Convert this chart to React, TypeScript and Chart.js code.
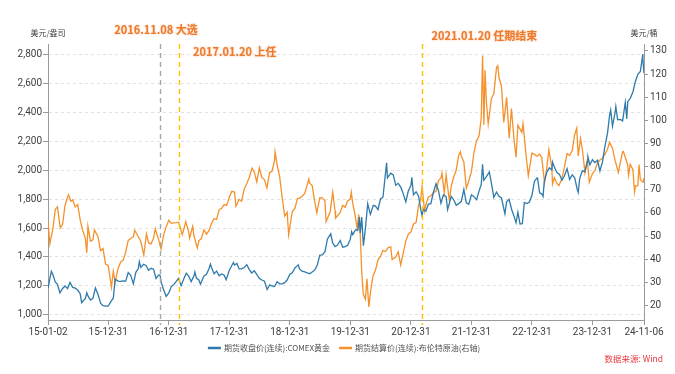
import React, { useEffect, useRef } from "react";
import { Chart, registerables } from "chart.js";

Chart.register(...registerables);

const W = 675;
const H = 374;

// ---- data (date "yy-mm-dd", value) ----
const GOLD_LABEL = "期货收盘价(连续):COMEX黄金";
const BRENT_LABEL = "期货结算价(连续):布伦特原油(右轴)";

const GOLD: [string, number][] = [
  ["15-01-02", 1186], ["15-01-15", 1262], ["15-01-22", 1301], ["15-01-31", 1279], ["15-02-15", 1228], ["15-02-28", 1212],
  ["15-03-15", 1153], ["15-03-31", 1183], ["15-04-15", 1200], ["15-04-30", 1182], ["15-05-15", 1225], ["15-05-31", 1190],
  ["15-06-15", 1185], ["15-06-30", 1172], ["15-07-15", 1147], ["15-07-24", 1085], ["15-07-31", 1095], ["15-08-15", 1113],
  ["15-08-24", 1154], ["15-08-31", 1132], ["15-09-15", 1103], ["15-09-30", 1115], ["15-10-15", 1187], ["15-10-31", 1142],
  ["15-11-15", 1081], ["15-11-30", 1064], ["15-12-15", 1062], ["15-12-31", 1061],
  ["16-01-15", 1090], ["16-01-31", 1116], ["16-02-11", 1247], ["16-02-29", 1234], ["16-03-15", 1232], ["16-03-31", 1235],
  ["16-04-15", 1234], ["16-04-30", 1292], ["16-05-15", 1273], ["16-05-31", 1215], ["16-06-15", 1294], ["16-06-30", 1320],
  ["16-07-06", 1367], ["16-07-15", 1328], ["16-07-31", 1350], ["16-08-15", 1342], ["16-08-31", 1309], ["16-09-15", 1322],
  ["16-09-30", 1316], ["16-10-15", 1252], ["16-10-31", 1276], ["16-11-08", 1274], ["16-11-15", 1225], ["16-11-30", 1173],
  ["16-12-15", 1128], ["16-12-31", 1152],
  ["17-01-15", 1196], ["17-01-31", 1211], ["17-02-15", 1233], ["17-02-28", 1253], ["17-03-15", 1202], ["17-03-31", 1249],
  ["17-04-15", 1288], ["17-04-30", 1268], ["17-05-15", 1230], ["17-05-31", 1268], ["17-06-06", 1297], ["17-06-15", 1255],
  ["17-06-30", 1242], ["17-07-10", 1213], ["17-07-31", 1269], ["17-08-15", 1281], ["17-08-31", 1321], ["17-09-08", 1351],
  ["17-09-15", 1325], ["17-09-30", 1284], ["17-10-15", 1303], ["17-10-31", 1271], ["17-11-15", 1283], ["17-11-30", 1275],
  ["17-12-12", 1243], ["17-12-31", 1309],
  ["18-01-15", 1341], ["18-01-25", 1362], ["18-01-31", 1345], ["18-02-15", 1355], ["18-02-28", 1318], ["18-03-15", 1318],
  ["18-03-31", 1327], ["18-04-15", 1347], ["18-04-30", 1315], ["18-05-15", 1290], ["18-05-31", 1305], ["18-06-15", 1278],
  ["18-06-30", 1253], ["18-07-15", 1241], ["18-07-31", 1233], ["18-08-16", 1176], ["18-08-31", 1206], ["18-09-15", 1201],
  ["18-09-30", 1196], ["18-10-15", 1230], ["18-10-31", 1215], ["18-11-15", 1215], ["18-11-30", 1223], ["18-12-15", 1241],
  ["18-12-31", 1281],
  ["19-01-15", 1291], ["19-01-31", 1325], ["19-02-20", 1346], ["19-02-28", 1316], ["19-03-15", 1302], ["19-03-31", 1298],
  ["19-04-15", 1291], ["19-04-30", 1285], ["19-05-15", 1297], ["19-05-31", 1311], ["19-06-15", 1345], ["19-06-30", 1413],
  ["19-07-15", 1414], ["19-07-31", 1437], ["19-08-15", 1525], ["19-09-04", 1560], ["19-09-15", 1499], ["19-09-30", 1472],
  ["19-10-15", 1482], ["19-10-31", 1514], ["19-11-15", 1468], ["19-11-30", 1472], ["19-12-15", 1481], ["19-12-31", 1523],
  ["20-01-08", 1575], ["20-01-15", 1554], ["20-01-31", 1587], ["20-02-15", 1586], ["20-02-24", 1676], ["20-02-29", 1566],
  ["20-03-09", 1675], ["20-03-19", 1478], ["20-03-31", 1596], ["20-04-14", 1768], ["20-04-30", 1694], ["20-05-18", 1756],
  ["20-05-31", 1751], ["20-06-15", 1727], ["20-06-30", 1800], ["20-07-15", 1812], ["20-07-31", 1986], ["20-08-06", 2050],
  ["20-08-11", 1946], ["20-08-31", 1978], ["20-09-15", 1966], ["20-09-30", 1895], ["20-10-15", 1908], ["20-10-31", 1880],
  ["20-11-09", 1854], ["20-11-30", 1780], ["20-12-15", 1855], ["20-12-31", 1895],
  ["21-01-05", 1950], ["21-01-15", 1829], ["21-01-31", 1850], ["21-02-15", 1820], ["21-02-28", 1729], ["21-03-08", 1683],
  ["21-03-15", 1730], ["21-03-31", 1716], ["21-04-15", 1765], ["21-04-30", 1768], ["21-05-15", 1843], ["21-05-31", 1905],
  ["21-06-15", 1857], ["21-06-30", 1770], ["21-07-15", 1829], ["21-07-31", 1817], ["21-08-09", 1727], ["21-08-31", 1818],
  ["21-09-15", 1795], ["21-09-30", 1757], ["21-10-15", 1768], ["21-10-31", 1784], ["21-11-15", 1866], ["21-11-30", 1774],
  ["21-12-15", 1764], ["21-12-31", 1829],
  ["22-01-15", 1816], ["22-01-31", 1796], ["22-02-15", 1856], ["22-02-28", 1900], ["22-03-08", 2040], ["22-03-15", 1929],
  ["22-03-31", 1954], ["22-04-18", 1986], ["22-04-30", 1911], ["22-05-15", 1811], ["22-05-31", 1848], ["22-06-15", 1819],
  ["22-06-30", 1807], ["22-07-21", 1698], ["22-07-31", 1781], ["22-08-15", 1798], ["22-08-31", 1726], ["22-09-15", 1677],
  ["22-09-26", 1636], ["22-10-07", 1709], ["22-10-20", 1628], ["22-11-03", 1630], ["22-11-15", 1776], ["22-11-30", 1768],
  ["22-12-15", 1777], ["22-12-31", 1826],
  ["23-01-15", 1921], ["23-01-31", 1945], ["23-02-02", 1950], ["23-02-15", 1842], ["23-02-28", 1836], ["23-03-08", 1818],
  ["23-03-15", 1918], ["23-03-31", 1986], ["23-04-15", 2015], ["23-04-30", 2000], ["23-05-04", 2055], ["23-05-15", 2021],
  ["23-05-31", 1982], ["23-06-15", 1970], ["23-06-30", 1929], ["23-07-15", 1960], ["23-07-31", 2009], ["23-08-15", 1935],
  ["23-08-31", 1966], ["23-09-15", 1946], ["23-09-30", 1866], ["23-10-06", 1845], ["23-10-15", 1941], ["23-10-31", 1996],
  ["23-11-15", 1987], ["23-11-30", 2057], ["23-12-04", 2090], ["23-12-15", 2036], ["23-12-31", 2071],
  ["24-01-15", 2051], ["24-01-31", 2067], ["24-02-14", 1993], ["24-02-29", 2054], ["24-03-15", 2161], ["24-03-31", 2254],
  ["24-04-12", 2374], ["24-04-19", 2413], ["24-04-30", 2302], ["24-05-15", 2393], ["24-05-20", 2438], ["24-05-31", 2346],
  ["24-06-15", 2349], ["24-06-30", 2339], ["24-07-16", 2467], ["24-07-25", 2353], ["24-07-31", 2473], ["24-08-15", 2494],
  ["24-08-31", 2538], ["24-09-15", 2610], ["24-09-30", 2660], ["24-10-15", 2680], ["24-10-30", 2800], ["24-10-31", 2749],
  ["24-11-06", 2668],
];

const BRENT: [string, number][] = [
  ["15-01-02", 56.4], ["15-01-13", 46.6], ["15-01-31", 53.0], ["15-02-15", 61.5], ["15-02-28", 62.6], ["15-03-17", 53.5],
  ["15-03-31", 55.1], ["15-04-15", 63.3], ["15-04-30", 66.8], ["15-05-06", 67.8], ["15-05-20", 65.0], ["15-05-31", 65.6],
  ["15-06-15", 62.6], ["15-06-30", 63.6], ["15-07-15", 57.1], ["15-07-31", 52.2], ["15-08-15", 49.2], ["15-08-24", 42.7],
  ["15-08-31", 54.2], ["15-09-15", 47.8], ["15-09-30", 48.4], ["15-10-09", 52.7], ["15-10-31", 49.6], ["15-11-15", 43.6],
  ["15-11-30", 44.6], ["15-12-15", 37.9], ["15-12-31", 37.3],
  ["16-01-20", 27.9], ["16-01-31", 34.7], ["16-02-11", 30.1], ["16-02-29", 36.0], ["16-03-15", 38.7], ["16-03-31", 39.6],
  ["16-04-15", 43.1], ["16-04-30", 48.1], ["16-05-15", 48.9], ["16-05-31", 49.7], ["16-06-08", 52.5], ["16-06-30", 49.7],
  ["16-07-15", 47.6], ["16-08-02", 41.8], ["16-08-18", 50.9], ["16-08-31", 47.0], ["16-09-15", 46.6], ["16-09-30", 49.1],
  ["16-10-10", 53.1], ["16-10-31", 48.3], ["16-11-14", 44.4], ["16-11-30", 50.5], ["16-12-15", 54.0], ["16-12-31", 56.8],
  ["17-01-15", 55.5], ["17-01-31", 55.7], ["17-02-15", 55.8], ["17-02-28", 56.0], ["17-03-22", 50.6], ["17-03-31", 52.8],
  ["17-04-12", 56.2], ["17-04-30", 51.7], ["17-05-05", 49.1], ["17-05-24", 54.2], ["17-05-31", 50.3], ["17-06-21", 44.8],
  ["17-06-30", 47.9], ["17-07-15", 48.9], ["17-07-31", 52.7], ["17-08-15", 50.8], ["17-08-31", 52.4], ["17-09-15", 55.6],
  ["17-09-30", 57.5], ["17-10-15", 57.2], ["17-10-31", 61.4], ["17-11-15", 62.0], ["17-11-30", 63.6], ["17-12-15", 63.2],
  ["17-12-31", 66.9],
  ["18-01-15", 69.3], ["18-01-31", 69.0], ["18-02-09", 62.8], ["18-02-28", 65.8], ["18-03-15", 65.1], ["18-03-31", 70.3],
  ["18-04-15", 72.6], ["18-04-30", 75.2], ["18-05-17", 79.3], ["18-05-31", 77.6], ["18-06-15", 73.4], ["18-06-30", 79.4],
  ["18-07-15", 75.3], ["18-07-31", 74.3], ["18-08-15", 70.8], ["18-08-31", 77.4], ["18-09-15", 78.1], ["18-09-30", 82.7],
  ["18-10-03", 86.3], ["18-10-15", 81.0], ["18-10-31", 75.5], ["18-11-15", 66.6], ["18-11-30", 58.7], ["18-12-15", 60.3],
  ["18-12-24", 50.5], ["18-12-31", 53.8],
  ["19-01-15", 60.6], ["19-01-31", 61.9], ["19-02-15", 66.3], ["19-02-28", 66.3], ["19-03-15", 67.2], ["19-03-31", 68.4],
  ["19-04-25", 74.6], ["19-04-30", 72.8], ["19-05-15", 71.8], ["19-05-31", 64.5], ["19-06-12", 60.0], ["19-06-30", 66.6],
  ["19-07-15", 66.5], ["19-07-31", 65.2], ["19-08-07", 56.2], ["19-08-31", 60.4], ["19-09-16", 69.0], ["19-09-30", 60.8],
  ["19-10-03", 57.7], ["19-10-31", 60.2], ["19-11-15", 63.3], ["19-11-30", 62.4], ["19-12-15", 65.2], ["19-12-31", 66.0],
  ["20-01-06", 68.9], ["20-01-15", 64.0], ["20-01-31", 58.2], ["20-02-10", 53.3], ["20-02-20", 59.3], ["20-02-29", 50.5],
  ["20-03-09", 34.4], ["20-03-18", 24.9], ["20-03-31", 22.7], ["20-04-09", 31.5], ["20-04-21", 19.3], ["20-04-30", 25.3],
  ["20-05-15", 32.5], ["20-05-31", 35.3], ["20-06-15", 39.7], ["20-06-30", 41.2], ["20-07-15", 43.8], ["20-07-31", 43.3],
  ["20-08-15", 45.0], ["20-08-31", 45.3], ["20-09-08", 39.8], ["20-09-30", 40.9], ["20-10-15", 43.2], ["20-10-30", 37.5],
  ["20-11-15", 42.8], ["20-11-30", 47.9], ["20-12-15", 50.8], ["20-12-31", 51.8],
  ["21-01-15", 55.1], ["21-01-31", 55.9], ["21-02-15", 63.3], ["21-02-28", 66.1], ["21-03-08", 71.4], ["21-03-23", 60.8],
  ["21-03-31", 63.5], ["21-04-15", 66.9], ["21-04-30", 67.3], ["21-05-15", 68.7], ["21-05-31", 69.3], ["21-06-15", 74.0],
  ["21-06-30", 75.1], ["21-07-06", 77.2], ["21-07-20", 68.6], ["21-07-31", 76.3], ["21-08-20", 65.2], ["21-08-31", 71.6],
  ["21-09-15", 75.5], ["21-09-30", 78.5], ["21-10-15", 84.9], ["21-10-25", 86.4], ["21-10-31", 84.4], ["21-11-15", 82.1],
  ["21-11-30", 70.6], ["21-12-15", 73.9], ["21-12-31", 77.8],
  ["22-01-15", 86.1], ["22-01-31", 91.2], ["22-02-15", 93.3], ["22-02-28", 101.0], ["22-03-08", 128.0], ["22-03-16", 98.0],
  ["22-03-23", 121.6], ["22-03-31", 107.9], ["22-04-11", 98.5], ["22-04-30", 109.3], ["22-05-15", 111.6], ["22-05-31", 122.8],
  ["22-06-08", 123.6], ["22-06-15", 118.5], ["22-06-30", 114.8], ["22-07-14", 99.1], ["22-07-31", 110.0], ["22-08-16", 92.3],
  ["22-08-29", 105.1], ["22-09-15", 90.8], ["22-09-26", 84.1], ["22-10-07", 97.9], ["22-10-31", 94.8], ["22-11-07", 98.6],
  ["22-11-28", 83.2], ["22-12-09", 76.1], ["22-12-31", 85.9],
  ["23-01-15", 85.3], ["23-01-31", 84.5], ["23-02-15", 85.4], ["23-02-28", 83.9], ["23-03-17", 73.0], ["23-03-31", 79.8],
  ["23-04-12", 87.3], ["23-04-30", 79.5], ["23-05-04", 72.5], ["23-05-15", 75.2], ["23-05-31", 72.7], ["23-06-12", 71.8],
  ["23-06-30", 74.9], ["23-07-15", 79.9], ["23-07-31", 85.6], ["23-08-15", 84.9], ["23-08-31", 86.9], ["23-09-15", 93.9],
  ["23-09-27", 96.6], ["23-10-06", 84.6], ["23-10-20", 92.2], ["23-10-31", 87.4], ["23-11-16", 77.4], ["23-11-30", 82.8],
  ["23-12-12", 73.2], ["23-12-31", 77.0],
  ["24-01-15", 78.3], ["24-01-31", 81.7], ["24-02-15", 82.9], ["24-02-29", 83.6], ["24-03-15", 85.3], ["24-03-31", 87.5],
  ["24-04-12", 90.5], ["24-04-30", 88.0], ["24-05-15", 82.8], ["24-06-04", 77.5], ["24-06-30", 86.4], ["24-07-05", 86.5],
  ["24-07-31", 80.7], ["24-08-05", 76.3], ["24-08-15", 81.0], ["24-08-31", 78.8], ["24-09-10", 69.2], ["24-09-15", 71.6],
  ["24-09-30", 71.8], ["24-10-07", 80.9], ["24-10-15", 74.3], ["24-10-31", 73.2], ["24-11-06", 75.0],
];

const X_TICKS = ["15-01-02", "15-12-31", "16-12-31", "17-12-31", "18-12-31", "19-12-31", "20-12-31", "21-12-31", "22-12-31", "23-12-31", "24-11-06"];
const LEFT_TICKS = [1000, 1200, 1400, 1600, 1800, 2000, 2200, 2400, 2600, 2800];
const RIGHT_TICKS = [20, 30, 40, 50, 60, 70, 80, 90, 100, 110, 120, 130];
const LEFT_RANGE = [965.5, 2869];
const RIGHT_RANGE = [13.7, 133.0];

// event markers (dates where the dashed lines sit in the picture)
const EVENT_LINE_DATES = ["16-11-08", "17-03-02", "21-03-05"];
const EVENT_LINE_COLORS = ["#A6A6A6", "#FFC000", "#FFC000"];
const EVENT_TEXTS = ["2016.11.08 大选", "2017.01.20 上任", "2021.01.20 任期结束"];

const LEFT_UNIT = "美元/盎司";
const RIGHT_UNIT = "美元/桶";
const SOURCE = "数据来源: Wind";

const GOLD_COLOR = "#2E7AAB";
const BRENT_COLOR = "#F5912A";
const TICK_FONT = { family: '"Liberation Sans Narrow", Roboto, sans-serif', size: 10 };
const CJK = '"Noto Sans CJK SC", sans-serif';

const dn = (s: string) => Date.UTC(2000 + Number(s.slice(0, 2)), Number(s.slice(3, 5)) - 1, Number(s.slice(6, 8))) / 864e5;
const tickLabelOf: Record<number, string> = {};
X_TICKS.forEach((d) => (tickLabelOf[dn(d)] = d));

const overlay = {
  id: "overlay",
  afterDatasetsDraw(chart: any) {
    const { ctx, chartArea, scales } = chart;
    const x = scales.x;
    ctx.save();
    // event dashed lines
    const linePx = EVENT_LINE_DATES.map((d) => x.getPixelForValue(dn(d)));
    linePx.forEach((px, i) => {
      ctx.beginPath();
      ctx.setLineDash([5, 4]);
      ctx.strokeStyle = EVENT_LINE_COLORS[i];
      ctx.lineWidth = 1.4;
      ctx.moveTo(Math.round(px) + 0.5, chartArea.top);
      ctx.lineTo(Math.round(px) + 0.5, chartArea.bottom + 5);
      ctx.stroke();
    });
    ctx.setLineDash([]);
    // event texts
    ctx.font = `bold 11px ${CJK}`;
    ctx.fillStyle = "#EE7A2C";
    ctx.textBaseline = "middle";
    ctx.shadowColor = "rgba(238,122,44,0.55)";
    ctx.shadowBlur = 2;
    ctx.textAlign = "center";
    ctx.fillText(EVENT_TEXTS[0], linePx[0] - 4, chartArea.top - 14);
    ctx.textAlign = "left";
    ctx.fillText(EVENT_TEXTS[1], linePx[1] + 14, chartArea.top + 8);
    ctx.fillText(EVENT_TEXTS[2], linePx[2] + 10, chartArea.top - 8);
    ctx.shadowBlur = 0;
    ctx.shadowColor = "transparent";
    // axis unit titles
    ctx.font = `8px ${CJK}`;
    ctx.fillStyle = "#404040";
    ctx.textAlign = "center";
    ctx.fillText(LEFT_UNIT, chartArea.left, chartArea.top - 11);
    ctx.fillText(RIGHT_UNIT, chartArea.right, chartArea.top - 11);
    // legend
    const items = chart.data.datasets.map((ds: any) => ({ label: ds.label, color: ds.borderColor }));
    const sw = 13, g1 = 3, g2 = 9;
    const widths = items.map((it: any) => sw + g1 + ctx.measureText(it.label).width);
    const total = widths.reduce((a: number, b: number) => a + b, 0) + g2 * (items.length - 1);
    let lx = (chartArea.left + chartArea.right) / 2 - 2 - total / 2;
    const ly = chartArea.bottom + 28;
    ctx.textAlign = "left";
    items.forEach((it: any, i: number) => {
      ctx.strokeStyle = it.color;
      ctx.lineWidth = 2.5;
      ctx.beginPath();
      ctx.moveTo(lx, ly);
      ctx.lineTo(lx + sw, ly);
      ctx.stroke();
      ctx.fillStyle = "#505050";
      ctx.fillText(it.label, lx + sw + g1, ly);
      lx += widths[i] + g2;
    });
    // source
    ctx.font = `8.5px ${CJK}`;
    ctx.fillStyle = "#E8383D";
    ctx.textAlign = "right";
    ctx.fillText(SOURCE, chart.width - 12, chartArea.bottom + 39);
    ctx.restore();
  },
};

export default function App() {
  const ref = useRef<HTMLCanvasElement>(null);
  useEffect(() => {
    if (!ref.current) return;
    const axisColor = "#9A9A9A";
    const chart = new Chart(ref.current, {
      type: "line",
      data: {
        datasets: [
          {
            label: GOLD_LABEL,
            data: GOLD.map(([d, v]) => ({ x: dn(d), y: v })),
            borderColor: GOLD_COLOR,
            backgroundColor: GOLD_COLOR,
            borderWidth: 1.3,
            pointRadius: 0,
            yAxisID: "y",
          },
          {
            label: BRENT_LABEL,
            data: BRENT.map(([d, v]) => ({ x: dn(d), y: v })),
            borderColor: BRENT_COLOR,
            backgroundColor: BRENT_COLOR,
            borderWidth: 1.3,
            pointRadius: 0,
            yAxisID: "y1",
          },
        ],
      },
      options: {
        animation: false,
        responsive: false,
        devicePixelRatio: 1,
        layout: { padding: { top: 44, left: 0, right: 0, bottom: 0 } },
        plugins: { legend: { display: false }, tooltip: { enabled: false } },
        scales: {
          x: {
            type: "linear",
            min: dn(X_TICKS[0]),
            max: dn(X_TICKS[X_TICKS.length - 1]),
            afterBuildTicks: (s: any) => {
              s.ticks = X_TICKS.map((d) => ({ value: dn(d) }));
            },
            afterFit: (s: any) => {
              s.height = 54;
            },
            ticks: {
              autoSkip: false,
              maxRotation: 0,
              padding: 1,
              color: "#404040",
              font: TICK_FONT,
              callback: (v: any) => tickLabelOf[v] ?? "",
            },
            grid: { drawOnChartArea: false, drawTicks: true, tickLength: 5, tickColor: axisColor },
            border: { color: axisColor, width: 1 },
          },
          y: {
            position: "left",
            min: LEFT_RANGE[0],
            max: LEFT_RANGE[1],
            afterBuildTicks: (s: any) => {
              s.ticks = LEFT_TICKS.map((v) => ({ value: v }));
            },
            afterFit: (s: any) => {
              s.width = 48;
            },
            ticks: {
              padding: 1,
              color: "#404040",
              font: TICK_FONT,
              callback: (v: any) => Number(v).toLocaleString("en-US"),
            },
            grid: { color: "#E2E2E2", tickLength: 5, tickColor: axisColor, tickBorderDash: [] },
            border: { color: axisColor, width: 1, dash: [3, 3] },
          },
          y1: {
            position: "right",
            min: RIGHT_RANGE[0],
            max: RIGHT_RANGE[1],
            afterBuildTicks: (s: any) => {
              s.ticks = RIGHT_TICKS.map((v) => ({ value: v }));
            },
            afterFit: (s: any) => {
              s.width = 31;
            },
            ticks: { padding: 2, color: "#404040", font: TICK_FONT },
            grid: { drawOnChartArea: false, tickLength: 4, tickColor: axisColor },
            border: { color: axisColor, width: 1 },
          },
        },
      } as any,
      plugins: [overlay],
    });
    return () => chart.destroy();
  }, []);
  return (
    <div style={{ position: "fixed", left: 0, top: 0, width: W, height: H, background: "#fff" }}>
      <canvas ref={ref} width={W} height={H} style={{ display: "block", width: W, height: H }} />
    </div>
  );
}
